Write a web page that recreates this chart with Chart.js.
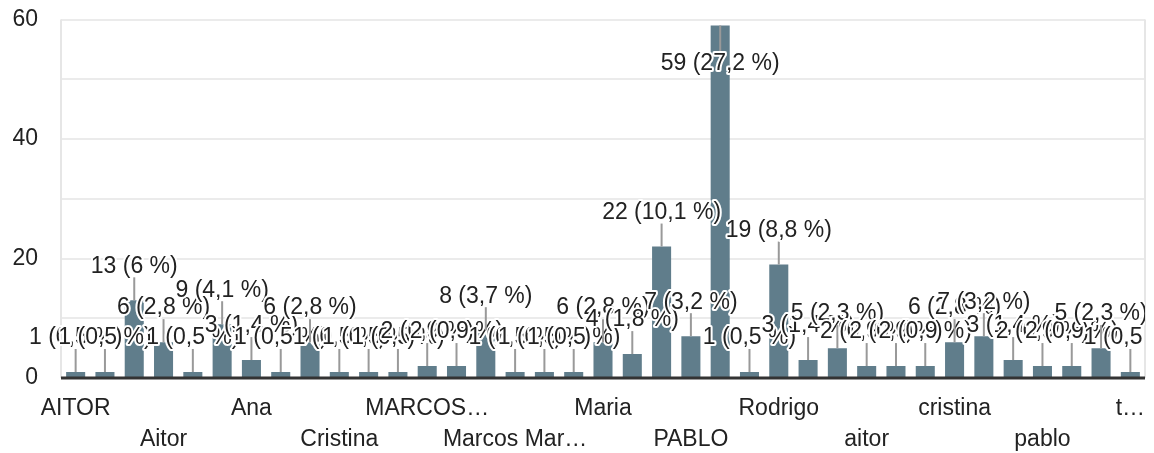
<!DOCTYPE html>
<html>
<head>
<meta charset="utf-8">
<script src="https://cdn.jsdelivr.net/npm/chart.js@4.4.1/dist/chart.umd.min.js"></script>
<style>
  html, body { margin: 0; padding: 0; background: #fff; }
  #wrap { width: 1154px; height: 453px; }
</style>
</head>
<body>
<div id="wrap"><canvas id="responses"></canvas></div>
<script>
// categories as the form returned them (sorted), only every 3rd one gets an axis label
const names = [
  'AITOR', 'AITOR G', 'ANA', 'Aitor', 'Aitor M', 'Alex', 'Ana', 'Ana B', 'Carlos',
  'Cristina', 'Cristina L', 'Javier', 'MARCOS…', 'MARIA', 'Marcos', 'Marcos Mar…',
  'Marcos R', 'Mari', 'Maria', 'Maria J', 'Mikel', 'PABLO', 'Pablo', 'Pablo G',
  'Rodrigo', 'Rodrigo S', 'Sergio', 'aitor', 'ana', 'carlos', 'cristina', 'marcos',
  'maria', 'pablo', 'rodrigo', 'sergio', 't…'
];
const counts = [
  1, 1, 13, 6, 1, 9, 3, 1, 6,
  1, 1, 1, 2, 2, 8, 1,
  1, 1, 6, 4, 22, 7, 59, 1,
  19, 3, 5, 2, 2, 2, 6, 7,
  3, 2, 2, 5, 1
];
const yTicks = [0, 20, 40, 60];

const FONT = "'Liberation Sans', Arial, sans-serif";
const total = counts.reduce((a, b) => a + b, 0);

function pctLabel(v) {
  const p = Math.round(v / total * 1000) / 10;
  return v + ' (' + String(p).replace('.', ',') + ' %)';
}

// chart frame + baseline + google-style annotations with stems
const annotations = {
  id: 'annotations',
  beforeDatasetsDraw(chart) {
    const { ctx, chartArea } = chart;
    ctx.save();
    ctx.strokeStyle = '#e6e6e6';
    ctx.lineWidth = 2;
    ctx.beginPath();
    ctx.moveTo(chartArea.left, chartArea.top);
    ctx.lineTo(chartArea.left, chartArea.bottom);
    ctx.moveTo(chartArea.right, chartArea.top);
    ctx.lineTo(chartArea.right, chartArea.bottom);
    ctx.stroke();
    ctx.restore();
  },
  afterDatasetsDraw(chart) {
    const { ctx, chartArea } = chart;
    const y0 = chart.scales.y.getPixelForValue(0);
    ctx.save();
    ctx.strokeStyle = '#333';
    ctx.lineWidth = 3;
    ctx.beginPath();
    ctx.moveTo(chartArea.left, y0);
    ctx.lineTo(chartArea.right, y0);
    ctx.stroke();

    ctx.beginPath();
    ctx.rect(0, 0, chartArea.right, chart.height);
    ctx.clip();
    ctx.font = '23px ' + FONT;
    ctx.textAlign = 'center';
    ctx.textBaseline = 'middle';
    ctx.lineJoin = 'round';

    chart.getDatasetMeta(0).data.forEach((bar, i) => {
      const text = pctLabel(counts[i]);
      let cy, stemEnd;
      if (bar.y - 46 < chartArea.top) {
        cy = bar.y + 38;
        stemEnd = cy - 11;
      } else {
        cy = bar.y - 34;
        stemEnd = bar.y - 23;
      }
      ctx.strokeStyle = '#999';
      ctx.lineWidth = 2;
      ctx.beginPath();
      ctx.moveTo(bar.x, bar.y);
      ctx.lineTo(bar.x, stemEnd);
      ctx.stroke();

      ctx.strokeStyle = '#fff';
      ctx.lineWidth = 4;
      ctx.strokeText(text, bar.x, cy);
      ctx.fillStyle = '#222';
      ctx.fillText(text, bar.x, cy);
    });
    ctx.restore();
  }
};

new Chart(document.getElementById('responses'), {
  type: 'bar',
  data: {
    labels: names,
    datasets: [{
      data: counts,
      backgroundColor: '#607d8b',
      borderWidth: 0,
      barPercentage: 0.65,
      categoryPercentage: 1
    }]
  },
  options: {
    responsive: true,
    maintainAspectRatio: false,
    animation: false,
    layout: { padding: { top: 19.5, right: 9, left: 0, bottom: 0 } },
    plugins: {
      legend: { display: false },
      tooltip: { enabled: false }
    },
    scales: {
      x: {
        afterFit(scale) { scale.height = 75; },
        grid: { display: false },
        border: { display: false },
        ticks: {
          autoSkip: false,
          maxRotation: 0,
          minRotation: 0,
          padding: 7,
          color: '#222',
          font: { family: FONT, size: 23, lineHeight: 1.35 },
          callback(value, index) {
            if (index % 3 !== 0) return '';
            const label = names[index];
            return (index / 3) % 2 === 0 ? label : ['', label];
          }
        }
      },
      y: {
        min: 0,
        max: 60,
        afterFit(scale) {
          scale.width = 61;
          scale.paddingTop = 0;
          scale.paddingBottom = 0;
        },
        grid: { color: '#ebebeb', lineWidth: 2, drawTicks: false },
        border: { display: false },
        ticks: {
          stepSize: 10,
          padding: 23,
          color: '#222',
          font: { family: FONT, size: 23 },
          callback(value) { return yTicks.includes(value) ? value : ''; }
        }
      }
    }
  },
  plugins: [annotations]
});
</script>
</body>
</html>
